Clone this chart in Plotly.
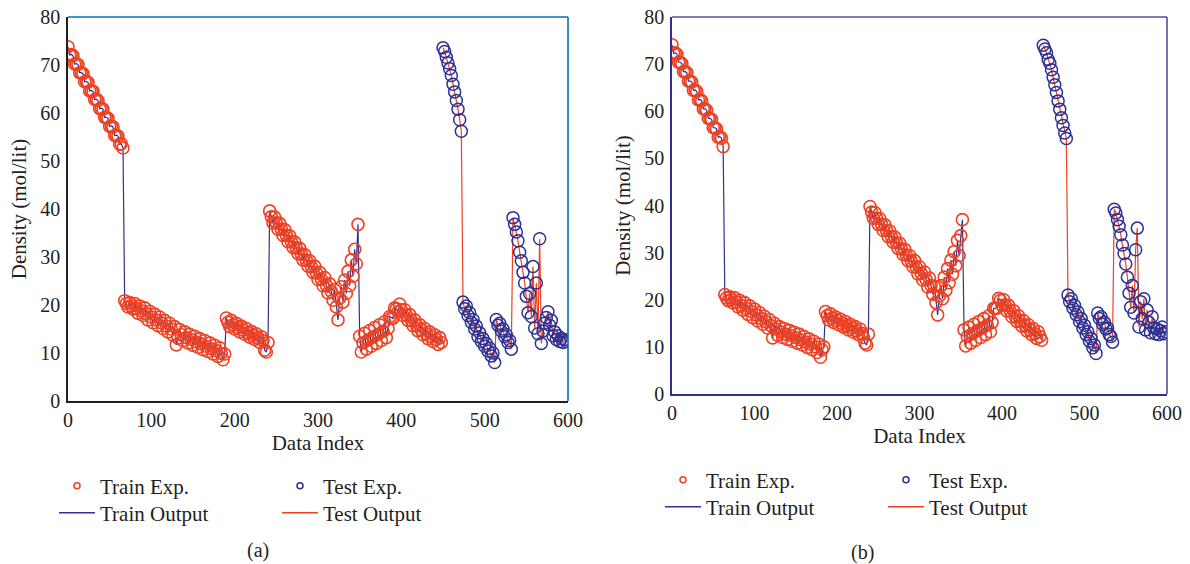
import plotly.graph_objects as go

# ---------------------------------------------------------------------------
# Density (mol/lit) against data index.
# Training samples are listed every 2nd index (0..448),
# test samples every 2nd index (450..598).
# ---------------------------------------------------------------------------
train_index = list(range(0, 450, 2))
test_index = list(range(450, 600, 2))

# (a) training experimental values
train_exp_a = [
    # block 1 (0-66)
    73.8, 72.1, 72.2, 71.9, 70.2, 70.3, 70.1, 68.4, 68.4, 68.2, 66.5, 66.6,
    66.4, 64.6, 64.7, 64.5, 62.8, 62.9, 62.6, 60.9, 61.0, 60.8, 59.1, 59.1,
    58.9, 57.2, 57.3, 57.1, 55.3, 55.4, 55.2, 53.5, 53.6, 52.7,
    # block 2 (68-188)
    20.9, 20.3, 19.6, 20.5, 19.8, 19.2, 20.3, 19.3, 18.3, 19.8, 18.8, 17.8,
    19.4, 18.2, 16.9, 18.7, 17.5, 16.3, 18.1, 16.9, 15.7, 17.5, 16.3, 15.1,
    16.8, 15.6, 14.4, 16.2, 15.0, 13.7, 15.5, 11.7, 13.1, 14.9, 13.8, 12.6,
    14.4, 13.2, 12.1, 13.9, 12.8, 11.6, 13.5, 12.3, 11.2, 13.0, 11.9, 10.7,
    12.6, 11.4, 10.3, 12.1, 10.9, 9.8, 11.6, 10.5, 9.3, 11.1, 9.9, 8.6,
    9.8,
    # block 3 (190-240)
    17.3, 16.4, 15.5, 16.8, 15.9, 15.0, 16.2, 15.3, 14.4, 15.6, 14.8, 13.9,
    15.1, 14.2, 13.3, 14.5, 13.7, 12.8, 14.0, 13.1, 12.2, 13.4, 12.6, 10.6,
    10.2, 12.2,
    # block 4 (242-348)
    39.6, 38.4, 37.1, 38.3, 37.1, 35.8, 37.0, 35.8, 34.5, 35.7, 34.5, 33.2,
    34.4, 33.2, 32.0, 33.1, 31.9, 30.7, 31.8, 30.6, 29.4, 30.5, 29.3, 28.1,
    29.2, 28.0, 26.8, 28.1, 26.7, 25.3, 26.8, 25.4, 24.0, 25.7, 24.1, 22.5,
    24.4, 22.8,
    21.0, 23.2, 19.6, 16.9, 21.4, 23.8, 20.6, 25.2, 22.4, 27.0, 24.0, 29.4,
    26.0, 31.6, 28.6, 36.8,
    # block 5 (350-448)
    13.5, 10.2, 12.1, 14.1, 10.8, 12.7, 14.7, 11.4, 13.3, 15.3, 12.0, 13.9,
    15.9, 12.6, 14.5, 16.5, 13.2, 15.1,
    17.6, 17.4, 17.2, 19.4, 19.2, 18.6, 20.2, 19.0, 17.8, 19.0, 17.9, 16.8,
    18.0, 16.8, 15.7, 16.9, 15.8, 14.6, 15.9, 14.8, 13.8, 15.1, 14.0, 13.0,
    14.4, 13.4, 12.4, 13.8, 12.8, 11.8, 13.2, 12.2,
]

# (a) test experimental values
test_exp_a = [
    73.6, 72.8, 71.6, 70.4, 69.2, 67.8, 66.0, 64.4, 62.6, 60.8, 58.6, 56.2,
    20.6, 19.2, 19.8, 17.8, 18.4, 16.4, 17.0, 15.0, 15.6, 13.4, 14.2, 12.4,
    13.0, 11.4, 12.0, 10.4, 11.0, 9.4, 10.0, 8.0,
    17.0, 15.8, 16.2, 14.6, 15.0, 13.4, 13.8, 12.2, 12.6, 10.8,
    38.2, 36.8, 35.2, 33.4, 31.0, 29.2, 26.8, 24.6, 21.8, 18.4,
    22.4, 17.6, 28.0, 15.2, 24.6, 14.0, 33.8,
    12.0, 14.6, 16.2, 17.4, 18.6, 15.8, 16.8, 13.6, 14.4, 12.8, 13.6, 12.4,
    13.0, 12.2, 12.8, 12.4,
]

# (b) training experimental values
train_exp_b = [
    # block 1 (0-62)
    74.1, 72.3, 72.4, 72.1, 70.4, 70.4, 70.1, 68.4, 68.4, 68.2, 66.4, 66.4,
    66.2, 64.4, 64.5, 64.2, 62.4, 62.5, 62.2, 60.5, 60.5, 60.2, 58.5, 58.5,
    58.3, 56.5, 56.5, 56.3, 54.5, 54.6, 54.3, 52.5,
    # block 2 (64-184)
    21.1, 20.4, 19.8, 20.6, 20.0, 19.3, 20.4, 19.5, 18.5, 19.9, 18.8, 17.8,
    19.4, 18.2, 16.9, 18.7, 17.5, 16.2, 18.0, 16.8, 15.5, 17.3, 16.0, 14.8,
    16.5, 15.3, 14.0, 15.8, 14.5, 11.9, 15.0, 13.8, 12.5, 14.3, 13.2, 12.0,
    13.9, 12.7, 11.6, 13.5, 12.4, 11.2, 13.1, 12.0, 10.8, 12.7, 11.5, 10.4,
    12.2, 11.0, 9.9, 11.7, 10.6, 9.4, 11.2, 10.0, 8.8, 10.6, 7.8, 9.4,
    10.0,
    # block 3 (186-238)
    17.5, 16.6, 15.7, 17.0, 16.1, 15.2, 16.4, 15.6, 14.7, 15.9, 15.0, 14.2,
    15.4, 14.5, 13.6, 14.8, 14.0, 13.1, 14.3, 13.4, 12.6, 13.8, 12.9, 12.0,
    10.8, 10.4, 12.7,
    # block 4 (240-352)
    39.8, 38.6, 37.3, 38.5, 37.3, 36.0, 37.2, 36.0, 34.7, 35.9, 34.7, 33.4,
    34.6, 33.4, 32.2, 33.3, 32.1, 30.9, 32.0, 30.8, 29.6, 30.7, 29.5, 28.3,
    29.4, 28.2, 27.0, 28.3, 26.9, 25.5, 27.0, 25.6, 24.2, 25.9, 24.3, 22.7,
    24.6, 23.0,
    21.2, 22.8, 19.4, 16.8, 20.8, 23.0, 20.2, 24.8, 22.0, 26.6, 23.6, 28.4,
    25.4, 30.2, 27.2, 32.6, 29.4, 33.6, 37.0,
    # block 5 (354-448)
    13.6, 10.2, 12.2, 14.2, 10.8, 12.8, 14.8, 11.4, 13.4, 15.4, 12.0, 14.0,
    16.0, 12.6, 14.6, 16.6, 13.2, 15.2,
    18.2, 18.2, 18.2, 20.3, 19.9, 18.8, 20.0, 18.8, 17.6, 18.8, 17.6, 16.4,
    17.7, 16.5, 15.4, 16.6, 15.5, 14.4, 15.6, 14.5, 13.4, 14.7, 13.6, 12.6,
    13.9, 12.8, 11.8, 13.2, 12.2, 11.4,
]

# (b) test experimental values
test_exp_b = [
    74.0, 73.2, 72.4, 71.0, 70.2, 68.8, 67.2, 65.6, 64.0, 62.2, 60.4, 58.6,
    57.0, 55.4, 54.2,
    21.0, 19.6, 20.2, 18.2, 18.8, 16.8, 17.4, 15.4, 16.0, 14.0, 14.6, 12.6,
    13.2, 11.2, 11.8, 9.8, 10.4, 8.6,
    17.2, 16.0, 16.4, 14.8, 15.2, 13.8, 14.0, 12.6, 12.2, 11.0,
    39.2, 38.4, 37.0, 35.6, 33.8, 31.6, 29.8, 27.6, 24.8, 21.4,
    18.4, 23.0, 17.2, 30.6, 35.2,
    14.2, 19.6, 16.0, 20.2, 13.6, 17.8, 15.2, 13.0, 16.4, 14.0, 12.8, 13.8,
    12.6, 13.4, 14.2, 12.8, 13.2,
]

# Model outputs track the experimental values
train_out_a = list(train_exp_a)
test_out_a = list(test_exp_a)
train_out_b = list(train_exp_b)
test_out_b = list(test_exp_b)

x_ticks = [0, 100, 200, 300, 400, 500, 600]
y_ticks = [0, 10, 20, 30, 40, 50, 60, 70, 80]

RED = "#EE4123"
NAVY = "#2E3192"
INK = "#231F20"
FONT = "Liberation Serif, Times New Roman, serif"
W, H = 1190, 564

fig = go.Figure()

panels = [
    dict(xa="x", ya="y", train=train_exp_a, test=test_exp_a,
         tr_out=train_out_a, te_out=test_out_a, legs=("legend", "legend2")),
    dict(xa="x2", ya="y2", train=train_exp_b, test=test_exp_b,
         tr_out=train_out_b, te_out=test_out_b, legs=("legend3", "legend4")),
]

for p in panels:
    common = dict(xaxis=p["xa"], yaxis=p["ya"], showlegend=False, hoverinfo="skip")
    fig.add_trace(go.Scatter(x=train_index, y=p["tr_out"], mode="lines",
                             line=dict(color=NAVY, width=1.2), **common))
    fig.add_trace(go.Scatter(x=test_index, y=p["te_out"], mode="lines",
                             line=dict(color=RED, width=1.2), **common))
    fig.add_trace(go.Scatter(x=train_index, y=p["train"], mode="markers",
                             marker=dict(symbol="circle-open", size=12, color=RED,
                                         line=dict(width=1.6)), **common))
    fig.add_trace(go.Scatter(x=test_index, y=p["test"], mode="markers",
                             marker=dict(symbol="circle-open", size=12, color=NAVY,
                                         line=dict(width=1.5)), **common))
    # legend entries
    leg1, leg2 = p["legs"]
    fig.add_trace(go.Scatter(x=[None], y=[None], mode="markers", name="Train Exp.",
                             marker=dict(symbol="circle-open", size=6, color=RED,
                                         line=dict(width=1.5)),
                             xaxis=p["xa"], yaxis=p["ya"], legend=leg1))
    fig.add_trace(go.Scatter(x=[None], y=[None], mode="markers", name="Test Exp.",
                             marker=dict(symbol="circle-open", size=6, color=NAVY,
                                         line=dict(width=1.5)),
                             xaxis=p["xa"], yaxis=p["ya"], legend=leg1))
    fig.add_trace(go.Scatter(x=[None], y=[None], mode="lines", name="Train Output",
                             line=dict(color=NAVY, width=1.5),
                             xaxis=p["xa"], yaxis=p["ya"], legend=leg2))
    fig.add_trace(go.Scatter(x=[None], y=[None], mode="lines", name="Test Output",
                             line=dict(color=RED, width=1.5),
                             xaxis=p["xa"], yaxis=p["ya"], legend=leg2))


def px_x(v):
    return v / W


def px_y(v):
    return 1 - v / H


def font(size):
    return dict(family=FONT, size=size, color=INK)


def xaxis(domain, anchor, color):
    return dict(domain=domain, anchor=anchor, range=[0, 600], tickvals=x_ticks,
                showgrid=False, zeroline=False, showline=True, linecolor=color,
                linewidth=1.6, ticks="", tickfont=font(20), automargin=False,
                title=dict(text="Data Index", font=font(21), standoff=6))


def yaxis(domain, anchor, color):
    return dict(domain=domain, anchor=anchor, range=[0, 80], tickvals=y_ticks,
                showgrid=False, zeroline=False, showline=True, linecolor=color,
                linewidth=1.6, ticks="", tickfont=font(20), automargin=False,
                ticklabelstandoff=2,
                title=dict(text="Density (mol/lit)", font=font(21), standoff=8))


def legend(x, y, width):
    return dict(orientation="h", x=x, y=y, xanchor="left", yanchor="middle",
                entrywidth=width, entrywidthmode="pixels", font=font(21),
                itemwidth=36, bgcolor="rgba(0,0,0,0)", itemclick=False,
                itemdoubleclick=False, tracegroupgap=0)


fig.update_layout(
    width=W, height=H,
    margin=dict(l=0, r=0, t=0, b=0),
    paper_bgcolor="white", plot_bgcolor="white",
    font=font(20),
    xaxis=xaxis([px_x(68), px_x(568)], "y", INK),
    yaxis=yaxis([px_y(401), px_y(17)], "x", INK),
    xaxis2=xaxis([px_x(672), px_x(1167)], "y2", NAVY),
    yaxis2=yaxis([px_y(394), px_y(17)], "x2", NAVY),
    legend=legend(px_x(54), px_y(486), 172),
    legend2=legend(px_x(54), px_y(513), 172),
    legend3=legend(px_x(660), px_y(480), 172),
    legend4=legend(px_x(660), px_y(507), 172),
    showlegend=True,
    annotations=[
        dict(text="(a)", x=px_x(258), y=px_y(550), xref="paper", yref="paper",
             xanchor="center", yanchor="middle", showarrow=False, font=font(20)),
        dict(text="(b)", x=px_x(862), y=px_y(552), xref="paper", yref="paper",
             xanchor="center", yanchor="middle", showarrow=False, font=font(20)),
    ],
    shapes=[
        # closing frame lines on top and right of each panel
        dict(type="line", xref="x domain", yref="y domain", x0=0, x1=1, y0=1, y1=1,
             line=dict(color="#0072BC", width=1.6)),
        dict(type="line", xref="x domain", yref="y domain", x0=1, x1=1, y0=0, y1=1,
             line=dict(color="#0072BC", width=1.6)),
        dict(type="line", xref="x2 domain", yref="y2 domain", x0=0, x1=1, y0=1, y1=1,
             line=dict(color="#4F4FA0", width=1.6)),
        dict(type="line", xref="x2 domain", yref="y2 domain", x0=1, x1=1, y0=0, y1=1,
             line=dict(color="#4F4FA0", width=1.6)),
    ],
)

fig.write_html("out.html")
